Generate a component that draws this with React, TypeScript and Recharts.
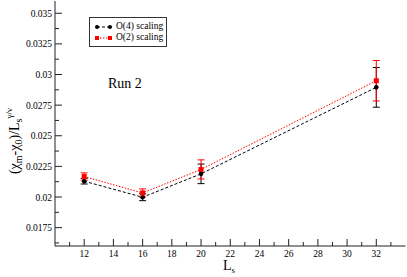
import React from "react";
import { ComposedChart, Line, XAxis, YAxis, ErrorBar } from "recharts";

const sizes = [12, 16, 20, 32];
const o4Values = [0.02129, 0.01998, 0.02189, 0.02895];
const o4Errors = [0.00023, 0.00028, 0.0008, 0.00162];
const o2Values = [0.02167, 0.02033, 0.02225, 0.02949];
const o2Errors = [0.0003, 0.00033, 0.00078, 0.00165];

const xTicks = [11, 12, 13, 14, 15, 16, 17, 18, 19, 20, 21, 22, 23, 24, 25, 26, 27, 28, 29, 30, 31, 32, 33];
const yTicks = [
  0.01625, 0.0175, 0.01875, 0.02, 0.02125, 0.0225, 0.02375, 0.025, 0.02625,
  0.0275, 0.02875, 0.03, 0.03125, 0.0325, 0.03375, 0.035,
];
const yMajor = [0.0175, 0.02, 0.0225, 0.025, 0.0275, 0.03, 0.0325, 0.035];

const data = sizes.map((x, i) => ({
  x,
  o4: o4Values[i],
  o4e: o4Errors[i],
  o2: o2Values[i],
  o2e: o2Errors[i],
}));

const FONT = "'Liberation Serif', 'Times New Roman', Times, serif";
const AXIS = "#222";

function BottomTick(props: any) {
  const { x, y, payload } = props;
  const major = payload.value % 2 === 0;
  return (
    <g>
      <line x1={x} x2={x} y1={y} y2={y - (major ? 7 : 4)} stroke={AXIS} strokeWidth={1} />
      {major && (
        <text x={x} y={y + 11} textAnchor="middle" fontSize={9.5} style={{ fontFamily: FONT }} fill="#000">
          {payload.value}
        </text>
      )}
    </g>
  );
}

function TopTick(props: any) {
  const { x, y, payload } = props;
  const major = payload.value % 2 === 0;
  return <line x1={x} x2={x} y1={y} y2={y + (major ? 7 : 4)} stroke={AXIS} strokeWidth={1} />;
}

function LeftTick(props: any) {
  const { x, y, payload } = props;
  const major = yMajor.includes(payload.value);
  return (
    <g>
      <line x1={x} x2={x + (major ? 7 : 4)} y1={y} y2={y} stroke={AXIS} strokeWidth={1} />
      {major && (
        <text x={x - 3} y={y + 3.5} textAnchor="end" fontSize={9.5} style={{ fontFamily: FONT }} fill="#000">
          {String(payload.value)}
        </text>
      )}
    </g>
  );
}

function RightTick(props: any) {
  const { x, y, payload } = props;
  const major = yMajor.includes(payload.value);
  return <line x1={x} x2={x - (major ? 7 : 4)} y1={y} y2={y} stroke={AXIS} strokeWidth={1} />;
}

function LegendBox() {
  const row = (color: string, dash: string, square: boolean, label: string) => (
    <div style={{ display: "flex", alignItems: "center", height: 11 }}>
      <svg width={17} height={8} style={{ marginRight: 4, flex: "none" }}>
        <line x1={2} x2={15} y1={4} y2={4} stroke={color} strokeDasharray={dash} />
        {square ? (
          <>
            <rect x={0} y={2} width={4} height={4} fill={color} />
            <rect x={13} y={2} width={4} height={4} fill={color} />
          </>
        ) : (
          <>
            <circle cx={2} cy={4} r={2} fill={color} />
            <circle cx={15} cy={4} r={2} fill={color} />
          </>
        )}
      </svg>
      <span style={{ whiteSpace: "nowrap" }}>{label}</span>
    </div>
  );
  return (
    <div
      style={{
        position: "absolute",
        left: 89,
        top: 17,
        boxSizing: "border-box",
        width: 78,
        height: 30,
        border: "1px solid #333",
        padding: "3px 0 3px 5px",
        fontFamily: FONT,
        fontSize: 9.5,
        lineHeight: "11px",
        background: "#fff",
      }}
    >
      {row("#000", "3 2", false, "O(4) scaling")}
      {row("#ff0000", "1.5 1.5", true, "O(2) scaling")}
    </div>
  );
}

export default function App() {
  return (
    <div style={{ position: "fixed", left: 0, top: 0, width: 407, height: 277, background: "#fff" }}>
      <ComposedChart
        width={407}
        height={277}
        data={data}
        margin={{ top: 1, right: 1.5, bottom: 0, left: 0 }}
      >
        <XAxis
          dataKey="x"
          type="number"
          domain={[10, 34]}
          ticks={xTicks}
          allowDataOverflow
          height={31}
          tickSize={0}
          tickMargin={0}
          tickLine={false}
          stroke={AXIS}
          tick={<BottomTick />}
          interval={0}
        />
        <XAxis
          xAxisId="top"
          orientation="top"
          dataKey="x"
          type="number"
          domain={[10, 34]}
          ticks={xTicks}
          allowDataOverflow
          height={0}
          tickSize={0}
          tickMargin={0}
          tickLine={false}
          stroke={AXIS}
          tick={<TopTick />}
          interval={0}
        />
        <YAxis
          type="number"
          domain={[0.016, 0.036]}
          ticks={yTicks}
          allowDataOverflow
          width={55}
          tickSize={0}
          tickMargin={0}
          tickLine={false}
          stroke={AXIS}
          tick={<LeftTick />}
          interval={0}
        />
        <YAxis
          yAxisId="right"
          orientation="right"
          type="number"
          domain={[0.016, 0.036]}
          ticks={yTicks}
          allowDataOverflow
          width={0}
          tickSize={0}
          tickMargin={0}
          tickLine={false}
          stroke={AXIS}
          tick={<RightTick />}
          interval={0}
        />
        <Line
          dataKey="o4"
          stroke="#000"
          strokeWidth={1}
          strokeDasharray="3 2"
          dot={{ r: 2.3, fill: "#000", stroke: "#000", strokeWidth: 0 }}
          isAnimationActive={false}
        >
          <ErrorBar dataKey="o4e" width={3.5} stroke="#000" strokeWidth={1} direction="y" />
        </Line>
        <Line
          dataKey="o2"
          stroke="#ff0000"
          strokeWidth={1}
          strokeDasharray="1.5 1.5"
          dot={(p: any) => (
            <rect key={p.index} x={p.cx - 2.5} y={p.cy - 2.5} width={5} height={5} fill="#ff0000" />
          )}
          isAnimationActive={false}
        >
          <ErrorBar dataKey="o2e" width={3.5} stroke="#ff0000" strokeWidth={1} direction="y" />
        </Line>
      </ComposedChart>
      <LegendBox />
      <svg
        width={407}
        height={277}
        style={{ position: "absolute", left: 0, top: 0, pointerEvents: "none", fontFamily: FONT }}
      >
        <text x={108} y={88} fontSize={14}>Run 2</text>
        <text x={223} y={270} fontSize={14}>
          L<tspan fontSize={9} dy={3}>s</tspan>
        </text>
        <text transform="translate(19,141) rotate(-90)" textAnchor="middle" fontSize={14}>
          (χ<tspan fontSize={10} dy={3}>m</tspan>
          <tspan dy={-3}>-χ</tspan>
          <tspan fontSize={10} dy={3}>0</tspan>
          <tspan dy={-3}>)/L</tspan>
          <tspan fontSize={10} dy={3}>s</tspan>
          <tspan fontSize={9} dy={-10}>γ/ν</tspan>
        </text>
      </svg>
    </div>
  );
}
